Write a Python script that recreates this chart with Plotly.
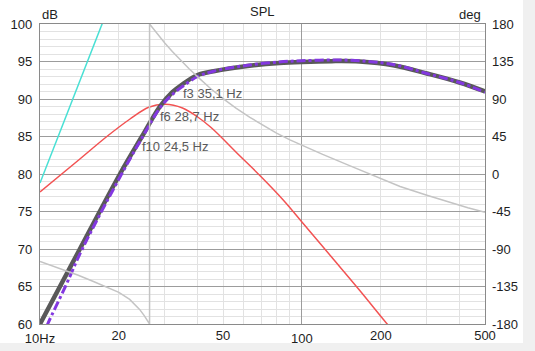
import math
import plotly.graph_objects as go

# ---- data ----
spl_f = [10, 14.2, 20.2, 24.5, 28.7, 32, 35.1, 40, 46, 62, 82, 100, 130, 166, 223, 300, 400, 500]
spl_db = [60, 70, 80, 85, 89, 90.9, 92, 93.2, 93.7, 94.4, 94.8, 94.95, 95.05, 95.0, 94.5, 93.4, 92.2, 91.0]

sim_f = [10, 10.7, 12.5, 14.5, 20.2, 24.5, 28.7, 32, 35.1, 40, 46, 62, 82, 100, 130, 166, 223, 300, 400, 500]
sim_db = [57.5, 60, 65, 70, 79.6, 84.8, 88.8, 90.6, 91.7, 93.0, 93.7, 94.5, 94.95, 95.1, 95.2, 95.1, 94.6, 93.4, 92.2, 90.9]

red_f = [10, 14.2, 18, 22, 26, 30, 35, 40, 45, 58, 70, 85, 100, 130, 166, 207, 250]
red_db = [77.6, 82.0, 85.0, 87.3, 88.9, 89.3, 88.8, 87.6, 86.2, 82.4, 79.6, 76.5, 73.6, 68.9, 64.5, 60.4, 57.0]

cyan_f = [10, 13, 17.25, 18.5]
cyan_db = [78.8, 89.0, 100.0, 102.7]

ph_f = [10, 12, 14, 16, 18, 20, 22, 24, 25, 26.2,
        26.2, 28, 30, 32, 34.2, 37, 40, 45, 50, 56, 63.3, 72, 80, 90, 100, 120, 152, 190, 237, 300, 367, 430, 500]
ph_deg = [-105, -113.5, -121.5, -129, -135.5, -142, -150.5, -162.5, -170, -180,
          180, 168, 157, 147, 137.5, 126.5, 116.5, 102, 90.5, 79, 68, 57, 49, 41, 34.5, 23.5, 10, -3, -15, -25.5, -34, -40.5, -46]

marks = [("f3 35,1 Hz", 35.1, 92), ("f6 28,7 Hz", 28.7, 89), ("f10 24,5 Hz", 24.5, 85)]

x_major = [10, 100]
x_major_txt = ["10Hz", "100"]
x_minor = [20, 30, 40, 50, 60, 70, 80, 90, 200, 300, 400]
x_lbl = [20, 50, 200, 500]
x_lbl_txt = ["20", "50", "200", "500"]
y_ticks = [60, 65, 70, 75, 80, 85, 90, 95, 100]
y2_ticks = [-180, -135, -90, -45, 0, 45, 90, 135, 180]
y2_txt = ["-180", "-135", "-90", "-45", "0", "45", "90", "135", "180"]

FONT = "Liberation Sans, Arial, sans-serif"
TXT = "#1e1e1e"

fig = go.Figure()
fig.add_trace(go.Scatter(x=ph_f, y=ph_deg, mode="lines", yaxis="y2",
                         line=dict(color="#c4c4c4", width=1.5), hoverinfo="skip"))
fig.add_trace(go.Scatter(x=cyan_f, y=cyan_db, mode="lines", xaxis="x2",
                         line=dict(color="#48e0d4", width=1.5), hoverinfo="skip"))
fig.add_trace(go.Scatter(x=red_f, y=red_db, mode="lines", line_shape="spline",
                         line=dict(color="#f25252", width=1.5), hoverinfo="skip"))
fig.add_trace(go.Scatter(x=spl_f, y=spl_db, mode="lines", line_shape="spline",
                         line=dict(color="#595959", width=4.5), hoverinfo="skip"))
fig.add_trace(go.Scatter(x=sim_f, y=sim_db, mode="lines", line_shape="spline",
                         line=dict(color="#8338e0", width=3, dash="dashdot"), hoverinfo="skip"))

for txt, f, db in marks:
    fig.add_annotation(x=math.log10(f), y=db, xref="x", yref="y", text=txt, showarrow=False,
                       xanchor="left", yanchor="top", xshift=-2, yshift=0,
                       font=dict(family=FONT, size=13, color="#5a5a5a"))

fig.add_annotation(x=0.5, y=1.043, xref="paper", yref="paper", text="SPL", showarrow=False,
                   xanchor="center", yanchor="middle", font=dict(family=FONT, size=13, color=TXT))
fig.add_annotation(x=0.0, y=1.03, xref="paper", yref="paper", text="dB", showarrow=False,
                   xanchor="left", yanchor="middle", font=dict(family=FONT, size=13, color=TXT))
fig.add_annotation(x=0.995, y=1.03, xref="paper", yref="paper", text="deg", showarrow=False,
                   xanchor="right", yanchor="middle", font=dict(family=FONT, size=13, color=TXT))

# widget panel (white) on light-gray page
fig.add_shape(type="rect", xref="paper", yref="paper", x0=-0.1, x1=1.0854, y0=-0.0633, y1=1.1,
              fillcolor="white", line=dict(width=0), layer="below")

fig.update_layout(
    width=535, height=351,
    margin=dict(l=40, r=50, t=24, b=27),
    paper_bgcolor="#f0f0f0", plot_bgcolor="white",
    showlegend=False,
    font=dict(family=FONT, size=13, color=TXT),
    xaxis=dict(type="log", range=[1, 2.69897], tickvals=x_major, ticktext=x_major_txt,
               showgrid=True, gridcolor="#9c9c9c", gridwidth=1.2,
               minor=dict(tickvals=x_minor, showgrid=True, gridcolor="#e2e2e2", gridwidth=1.2),
               showline=True, linecolor="#8a8a8a", linewidth=1.2, mirror=True,
               ticks="", ticklabelstandoff=2, zeroline=False, automargin=False),
    xaxis2=dict(type="log", range=[1, 2.69897], overlaying="x", anchor="y", side="bottom",
                tickvals=x_lbl, ticktext=x_lbl_txt, showgrid=False, ticks="",
                ticklabelstandoff=2, showline=False, zeroline=False, automargin=False),
    yaxis=dict(range=[60, 100], tickvals=y_ticks,
               showgrid=True, gridcolor="#9c9c9c", gridwidth=1.2,
               minor=dict(dtick=1, showgrid=True, gridcolor="#e2e2e2", gridwidth=1.2),
               showline=True, linecolor="#8a8a8a", linewidth=1.2, mirror=True,
               ticks="", ticklabelstandoff=4, zeroline=False, automargin=False),
    yaxis2=dict(range=[-180, 180], tickvals=y2_ticks, ticktext=y2_txt,
                overlaying="y", side="right", anchor="x", showgrid=False, ticks="",
                ticklabelstandoff=6, zeroline=False, showline=False, automargin=False),
)

fig.write_html("out.html")
